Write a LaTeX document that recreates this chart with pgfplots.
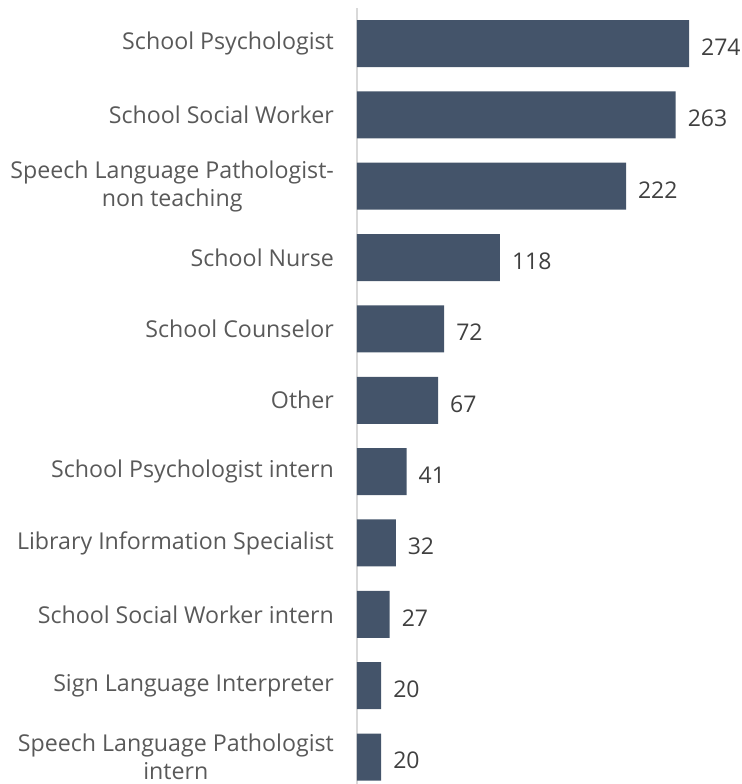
\documentclass[border=0pt]{standalone}
\usepackage{pgfplots}
\pgfplotsset{compat=1.18}
\usepackage{fontspec}
\setmainfont{Open Sans}
\definecolor{barFill}{HTML}{44546A}
\definecolor{labelInk}{HTML}{595959}
\definecolor{valueInk}{HTML}{404040}
\definecolor{axisGray}{HTML}{D9D9D9}
\begin{document}
\begin{tikzpicture}[x=1pt,y=1pt]
\begin{axis}[
  scale only axis, width=192.5pt, height=388pt,
  xbar, bar width=23.5pt, bar shift=0pt,
  xmin=0, xmax=317.7,
  y dir=reverse, ymin=-0.4975, ymax=10.378,
  hide x axis, axis y line*=left,
  axis line style={axisGray, line width=0.8pt, -},
  ytick={0,...,10}, major tick length=0pt,
  yticklabels={School Psychologist, School Social Worker, {Speech Language Pathologist-\\non teaching}, School Nurse, School Counselor, Other, School Psychologist intern, Library Information Specialist, School Social Worker intern, Sign Language Interpreter, {Speech Language Pathologist\\intern}},
  yticklabel style={font=\fontsize{11.6}{14.2}\selectfont, text=labelInk, align=center, xshift=-8pt},
  nodes near coords,
  every node near coord/.append style={font=\fontsize{11.5}{14}\selectfont, text=valueInk, xshift=2.5pt, yshift=-1.8pt,
    /pgf/number format/assume math mode=true},
]
\addplot[fill=barFill, draw=none] coordinates {
  (274,0) (263,1) (222,2) (118,3) (72,4) (67,5) (41,6) (32,7) (27,8) (20,9) (20,10)};
\end{axis}
\pgfresetboundingbox
\path[use as bounding box] ([xshift=-178.5pt]current axis.south west) rectangle ([yshift=4pt]current axis.north east);
\end{tikzpicture}
\end{document}
